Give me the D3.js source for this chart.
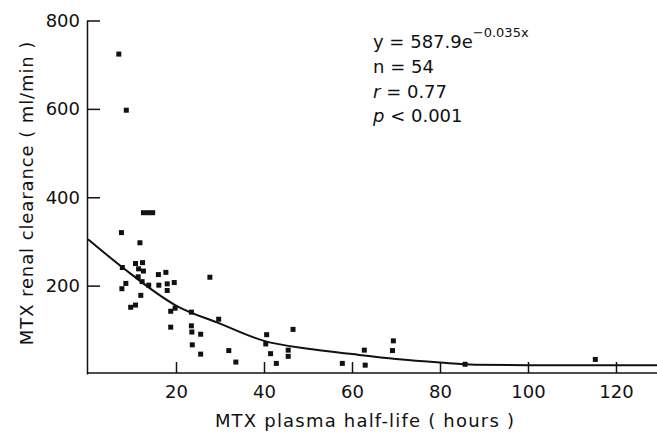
<!DOCTYPE html>
<html>
<head>
<meta charset="utf-8">
<script src="https://cdn.jsdelivr.net/npm/d3@7"></script>
<style>
  body { margin: 0; background: #fff; }
  text { font-family: "DejaVu Sans", sans-serif; fill: #111; }
</style>
</head>
<body>
<div class="chart"></div>
<script>
const width = 657;
const height = 433;

// half-life (hours) vs renal clearance (ml/min)
const halfLife = [
  7.0, 8.7, 12.6, 13.7, 14.7, 7.6, 11.8, 7.8, 10.8, 12.4,
  11.5, 12.6, 11.4, 12.3, 13.8, 8.6, 7.7, 12.0, 10.8, 9.7,
  16.0, 17.7, 16.1, 18.0, 19.6, 18.0, 19.8, 18.8, 18.8, 23.5,
  27.7, 29.7, 23.5, 23.6, 25.6, 23.7, 25.6, 32.0, 33.6, 40.6,
  40.4, 46.6, 41.5, 42.8, 45.5, 45.5, 57.8, 62.8, 63.0, 69.4,
  69.2, 85.7, 115.3
];
const clearance = [
  724, 597, 365, 365, 365, 320, 297, 241, 250, 252,
  238, 233, 220, 209, 201, 205, 193, 178, 156, 151,
  225, 230, 201, 204, 207, 189, 149, 142, 106, 140,
  219, 124, 109, 95, 90, 66, 45, 53, 27, 89,
  68, 101, 46, 24, 54, 40, 24, 54, 20, 75,
  53, 22, 33
];

// fitted curve as drawn
const curveX = [0, 8, 20, 30, 40, 50, 60, 70, 80, 88, 100, 130];
const curveY = [305, 240, 155, 114, 75, 57, 45, 34, 26, 21, 20, 20];

const xTicks = [20, 40, 60, 80, 100, 120];
const yTicks = [200, 400, 600, 800];

const statLines = ["n = 54", "r = 0.77", "p < 0.001"];

const svg = d3.select(".chart")
  .append("svg")
  .attr("width", width)
  .attr("height", height);

const x = d3.scaleLinear().domain([0, 130]).range([88, 660]);
const y = d3.scaleLinear().domain([0, 800]).range([374, 20.5]);

// axes, ticks pointing inward
const yAxis = svg.append("g")
  .attr("transform", `translate(${x(0) - 1},0)`)
  .call(d3.axisLeft(y).tickValues(yTicks).tickSizeInner(-13).tickSizeOuter(0).tickPadding(7));

const xAxis = svg.append("g")
  .attr("transform", `translate(0,${y(0) - 1})`)
  .call(d3.axisBottom(x).tickValues(xTicks).tickSizeInner(-11).tickSizeOuter(0).tickPadding(12));

[yAxis, xAxis].forEach(g => {
  g.selectAll("path, line").attr("stroke", "#111").attr("stroke-width", 1.5);
  g.selectAll("text").attr("font-size", 18).attr("fill", "#111")
    .style("font-family", "'DejaVu Sans', sans-serif");
});
xAxis.select(".domain").attr("d", `M${x(0) - 1},0H${width}`);

// curve
const line = d3.line()
  .x(d => x(d[0]))
  .y(d => y(d[1]))
  .curve(d3.curveMonotoneX);

svg.append("path")
  .datum(curveX.map((v, i) => [v, curveY[i]]))
  .attr("d", line)
  .attr("fill", "none")
  .attr("stroke", "#111")
  .attr("stroke-width", 2);

// points
svg.append("g")
  .selectAll("rect")
  .data(halfLife.map((v, i) => [v, clearance[i]]))
  .join("rect")
  .attr("x", d => x(d[0]) - 2.5)
  .attr("y", d => y(d[1]) - 2.5)
  .attr("width", 5)
  .attr("height", 5)
  .attr("fill", "#111");

// axis titles
svg.append("text")
  .attr("x", 365)
  .attr("y", 427)
  .attr("text-anchor", "middle")
  .attr("font-size", 18)
  .attr("letter-spacing", 1.2)
  .text("MTX plasma half-life ( hours )");

svg.append("text")
  .attr("transform", "translate(33,193) rotate(-90)")
  .attr("text-anchor", "middle")
  .attr("font-size", 18)
  .attr("letter-spacing", 0.9)
  .text("MTX renal clearance ( ml/min )");

// equation and stats
const eq = svg.append("text")
  .attr("x", 373)
  .attr("y", 48)
  .attr("font-size", 18);
eq.append("tspan").text("y = 587.9e");
eq.append("tspan").attr("font-size", 13).attr("dy", -11).text("−0.035x");

statLines.forEach((s, i) => {
  const t = svg.append("text")
    .attr("x", 373)
    .attr("y", 73 + i * 24.6)
    .attr("font-size", 18);
  const parts = s.split(" ");
  t.append("tspan").attr("font-style", i > 0 ? "italic" : null).text(parts[0]);
  t.append("tspan").text(" " + parts.slice(1).join(" "));
});
</script>
</body>
</html>
